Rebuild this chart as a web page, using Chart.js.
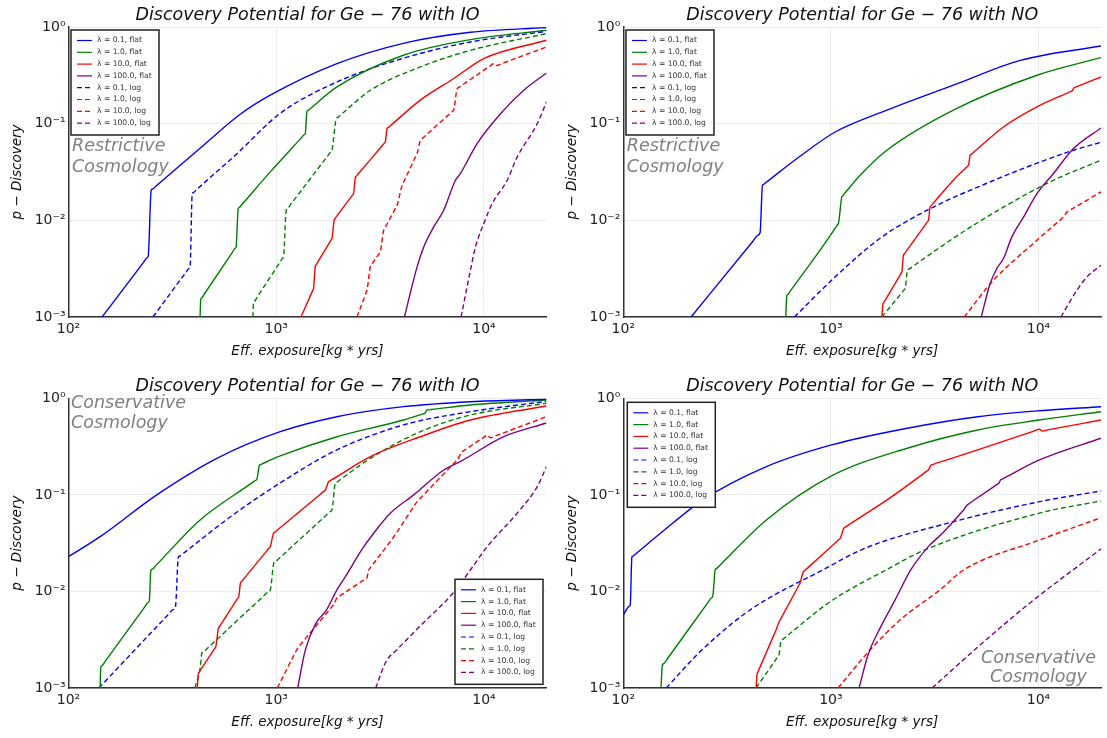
<!DOCTYPE html>
<html>
<head>
<meta charset="utf-8">
<title>Discovery Potential for Ge-76</title>
<script src="https://cdn.jsdelivr.net/npm/chart.js@4.4.1/dist/chart.umd.min.js"></script>
<style>
  html, body { margin: 0; padding: 0; background: #fff; }
  #wrap { position: relative; width: 1107px; height: 738px; overflow: hidden; }
  #wrap canvas { position: absolute; }
</style>
</head>
<body>
<div id="wrap">
  <canvas id="ioRes" width="553" height="369" style="left:0;top:0"></canvas>
  <canvas id="noRes" width="553" height="369" style="left:554px;top:0"></canvas>
  <canvas id="ioCon" width="553" height="369" style="left:0;top:369px"></canvas>
  <canvas id="noCon" width="553" height="369" style="left:554px;top:369px"></canvas>
</div>
<script>
// Discovery potential curves, [exposure kg*yrs, p]

const lambdas = ['0.1', '1.0', '10.0', '100.0'];
const priors = ['flat', 'log'];

const xTicks = [100, 1000, 10000];
const xTickLabels = ['10²', '10³', '10⁴'];
const yTicks = [0.001, 0.01, 0.1, 1];
const yTickLabels = ['10⁻³', '10⁻²', '10⁻¹', '10⁰'];

// IO, restrictive cosmology
const ioResFlat01 = [[145,0.001],[230,0.00369],[238,0.00408],[242,0.00426],[250,0.0205],[254,0.0211],[264,0.0227],[430,0.0557],[671,0.125],[936,0.197],[1960,0.418],[4090,0.678],[8610,0.881],[20000,0.986]];
const ioResFlat1 = [[430,0.001],[433,0.00152],[438,0.00158],[450,0.00172],[616,0.00469],[633,0.00512],[641,0.00531],[656,0.0132],[663,0.01355],[680,0.0144],[936,0.0317],[1327,0.0721],[1364,0.0769],[1380,0.079],[1406,0.134],[1420,0.1364],[1453,0.142],[1960,0.24],[4090,0.51],[8610,0.741],[20000,0.924]];
const ioResFlat10 = [[1315,0.001],[1492,0.00184],[1507,0.00193],[1513,0.00197],[1542,0.00335],[1551,0.00342],[1571,0.00358],[1821,0.00607],[1845,0.00635],[1855,0.00648],[1903,0.0102],[1915,0.01039],[1944,0.01085],[2308,0.01777],[2343,0.01855],[2358,0.0189],[2404,0.0279],[2428,0.0286],[2485,0.0303],[3242,0.0595],[3319,0.0631],[3352,0.0647],[3416,0.089],[3454,0.0908],[3544,0.0952],[4940,0.175],[7150,0.293],[9980,0.471],[20000,0.729]];
const ioResFlat100 = [[4140,0.001],[4765,0.0033],[5130,0.00531],[5730,0.00855],[6400,0.0127],[7290,0.026],[7700,0.0305],[9270,0.0623],[12460,0.138],[15550,0.222],[20000,0.334]];
const ioResLog01 = [[255,0.001],[369,0.00293],[380,0.00318],[385,0.0033],[394,0.0189],[400,0.01942],[413,0.0207],[635,0.0471],[1045,0.128],[1960,0.27],[4090,0.475],[8610,0.70],[20000,0.903]];
const ioResLog1 = [[772,0.001],[777,0.0014],[785,0.001446],[803,0.00156],[1048,0.00375],[1073,0.00405],[1084,0.00418],[1117,0.0127],[1134,0.01326],[1175,0.01466],[1763,0.046],[1827,0.05086],[1855,0.0531],[1946,0.113],[1968,0.1153],[2021,0.1209],[2840,0.2215],[4940,0.386],[8610,0.574],[20000,0.855]];
const ioResLog10 = [[2447,0.001],[2705,0.00177],[2726,0.001853],[2735,0.00189],[2840,0.00335],[2849,0.003386],[2871,0.00347],[3135,0.00455],[3159,0.004661],[3170,0.00471],[3290,0.0079],[3305,0.008041],[3340,0.00838],[3761,0.01348],[3800,0.01405],[3817,0.0143],[4036,0.0231],[4056,0.02363],[4104,0.0249],[4686,0.04545],[4741,0.04791],[4765,0.049],[4940,0.0673],[4995,0.06876],[5126,0.0723],[6890,0.1284],[7071,0.135],[7150,0.138],[7430,0.231],[7521,0.2352],[7738,0.2452],[10707,0.3956],[11150,0.42],[11500,0.40],[12156,0.418],[20000,0.621]];
const ioResLog100 = [[7760,0.001],[8610,0.00305],[9100,0.0053],[9980,0.00927],[10950,0.0149],[12940,0.026],[14460,0.0453],[18050,0.1],[20000,0.168]];

// NO, restrictive cosmology
const noResFlat01 = [[212,0.001],[422,0.00612],[445.5,0.00704],[456,0.00748],[468,0.0231],[474,0.02358],[488,0.02475],[710,0.046],[1048,0.082],[1860,0.138],[3890,0.25],[8160,0.452],[20000,0.636]];
const noResFlat1 = [[606,0.001],[613,0.00165],[620,0.001705],[636,0.00184],[887,0.00491],[1065,0.0087],[1080,0.009095],[1087,0.00927],[1129,0.0175],[1136,0.01777],[1152,0.01843],[1383,0.0293],[1860,0.0531],[3890,0.138],[9830,0.317],[20000,0.483]];
const noResFlat10 = [[1760,0.001],[1780,0.00136],[1791,0.001392],[1818,0.00147],[2151,0.0027],[2183,0.002852],[2197,0.00292],[2236,0.00436],[2255,0.004471],[2299,0.00474],[2871,0.0092],[2927,0.009753],[2951,0.01],[3006,0.0138],[3029,0.01406],[3084,0.0147],[3890,0.026],[4524,0.0358],[4577,0.0367],[4600,0.0371],[4686,0.0471],[4738,0.04807],[4862,0.0504],[6780,0.0924],[9830,0.149],[13938,0.2099],[14322,0.2155],[14490,0.218],[14860,0.236],[14993,0.2378],[15309,0.242],[20000,0.304]];
const noResFlat100 = [[5296,0.001],[5850,0.00222],[6302,0.00318],[6780,0.00403],[7444,0.00674],[8470,0.0108],[9830,0.0189],[11810,0.0305],[14740,0.0553],[20000,0.0903]];
const noResLog01 = [[667,0.001],[1048,0.0026],[1727,0.00653],[3006,0.0132],[5640,0.0242],[9830,0.039],[14740,0.0531],[20000,0.0642]];
const noResLog1 = [[1760,0.001],[2221,0.00184],[2261,0.00193],[2279,0.00197],[2337,0.00305],[2373,0.00312],[2459,0.00329],[3890,0.00653],[6780,0.0137],[11810,0.026],[20000,0.0418]];
const noResLog10 = [[4385,0.001],[6070,0.0024],[9830,0.00622],[12817,0.01022],[13084,0.010623],[13200,0.0108],[13710,0.0122],[13866,0.01238],[14238,0.0128],[20000,0.0197]];
const noResLog100 = [[12820,0.001],[15310,0.00189],[17110,0.0026],[20000,0.00343]];

// IO, conservative cosmology
const ioConFlat01 = [[100,0.0229],[142,0.0369],[266,0.1],[518,0.239],[1045,0.451],[1960,0.645],[4100,0.819],[8610,0.922],[20000,0.976]];
const ioConFlat1 = [[142,0.001],[143,0.00164],[145.4,0.001719],[151,0.00192],[232,0.00685],[241,0.007656],[245,0.00803],[249,0.0164],[253.1,0.017],[263,0.0185],[430,0.055],[758,0.1316],[792,0.1408],[807,0.145],[831,0.204],[836.7,0.2053],[850,0.2085],[1045,0.253],[1960,0.40],[4100,0.596],[5078,0.689],[5163,0.6967],[5200,0.70],[5320,0.757],[5397,0.7597],[5582,0.766],[8610,0.852],[20000,0.96]];
const ioConFlat10 = [[417,0.001],[422,0.00142],[424.4,0.001446],[430,0.00151],[502,0.00251],[509,0.002628],[512,0.00268],[527,0.00416],[530.6,0.004256],[539,0.00449],[645,0.00819],[655.5,0.008633],[660,0.00883],[673,0.0123],[679.8,0.01262],[696,0.0134],[906,0.0267],[926.9,0.02836],[936,0.0291],[970,0.04],[986.8,0.04124],[1027,0.0443],[1626,0.101],[1693,0.1086],[1722,0.112],[1787,0.137],[1812,0.1395],[1872,0.1454],[2840,0.249],[4940,0.40],[8610,0.596],[20000,0.832]];
const ioConFlat100 = [[1268,0.001],[1381,0.00248],[1554,0.00469],[1746,0.00643],[1960,0.0104],[2203,0.0154],[2577,0.0269],[2944,0.04],[3540,0.0645],[4590,0.1],[6400,0.181],[7700,0.2215],[12460,0.40],[20000,0.555]];
const ioConLog01 = [[140,0.001],[300,0.00566],[318.7,0.006476],[327,0.00686],[338,0.0226],[343.9,0.02326],[358,0.02487],[600,0.059],[1045,0.133],[1960,0.292],[4100,0.53],[8610,0.727],[20000,0.93]];
const ioConLog1 = [[406,0.001],[432,0.0017],[438,0.00229],[448.2,0.002395],[473,0.00266],[868,0.00894],[915.7,0.009939],[937,0.0104],[973,0.0196],[992,0.02036],[1038,0.02225],[1739,0.0615],[1819,0.0672],[1855,0.0698],[1924,0.132],[1946.5,0.1344],[2000,0.1401],[2840,0.239],[4940,0.451],[8610,0.672],[20000,0.888]];
const ioConLog10 = [[1012,0.001],[1227,0.002265],[1245.8,0.002413],[1254,0.00248],[1304,0.00279],[1318.5,0.002871],[1353,0.00307],[1818,0.00659],[1866,0.007045],[1887,0.00725],[1960,0.00857],[1979.6,0.008694],[2026,0.00899],[2641,0.01316],[2703,0.0136],[2730,0.0138],[2785,0.0167],[2808.5,0.0171],[2864,0.01808],[3680,0.0369],[4490,0.0703],[4560,0.0739],[4590,0.0755],[4765,0.085],[4829,0.0876],[4981,0.0939],[7107,0.2082],[7332,0.2232],[7430,0.23],[7850,0.28],[7916,0.2834],[8071,0.2914],[10076,0.4007],[10360,0.417],[10740,0.39],[11428,0.410],[20000,0.645]];
const ioConLog100 = [[3010,0.001],[3382,0.00189],[3803,0.00248],[4990,0.0045],[7090,0.00958],[8610,0.0167],[10360,0.0291],[14460,0.0647],[18050,0.1217],[20000,0.196]];

// NO, conservative cosmology
const noConFlat01 = [[100,0.00571],[107.2,0.00708],[108,0.00725],[110,0.0227],[111,0.02308],[113.5,0.0240],[151,0.04],[242,0.0888],[489,0.196],[1007,0.329],[2332,0.49],[5095,0.645],[10100,0.744],[20000,0.819]];
const noConFlat1 = [[152,0.001],[154,0.0017],[156.6,0.001788],[163,0.00201],[255,0.0076],[265.4,0.008541],[270,0.00898],[277,0.0167],[281.7,0.01731],[293,0.01881],[489,0.055],[1007,0.157],[2332,0.304],[5095,0.47],[10100,0.596],[20000,0.727]];
const noConFlat10 = [[436,0.001],[441,0.0014],[443.7,0.001443],[450,0.00155],[533,0.00359],[540.7,0.003859],[544,0.00398],[563,0.00483],[566.9,0.004966],[576,0.0053],[694,0.01112],[705.2,0.011865],[710,0.0122],[735,0.0159],[744.2,0.01629],[766,0.01723],[1065,0.03276],[1096.3,0.03466],[1110,0.0355],[1154,0.0453],[1171.7,0.04628],[1214,0.04865],[1918,0.0924],[2824,0.1692],[2910,0.1774],[2948,0.181],[3040,0.204],[3087,0.2062],[3201,0.2115],[5095,0.292],[9432,0.455],[10100,0.478],[10380,0.459],[11084,0.4712],[20000,0.596]];
const noConFlat100 = [[1367,0.001],[1510,0.00221],[1727,0.00419],[2039,0.00817],[2424,0.0167],[2948,0.0291],[3446,0.04],[4260,0.066],[4330,0.06864],[4361,0.0698],[4530,0.0786],[4578,0.07984],[4692,0.0828],[6220,0.1254],[6375,0.13],[6443,0.132],[6568,0.143],[6653,0.1451],[6857,0.15],[10100,0.23],[20000,0.386]];
const noConLog01 = [[161,0.001],[234,0.00237],[408,0.00643],[913,0.0167],[1460,0.028],[3730,0.0515],[10100,0.085],[20000,0.11]];
const noConLog1 = [[436,0.001],[549,0.00204],[558.8,0.002158],[563,0.00221],[575,0.00309],[584.4,0.003177],[607,0.00339],[991,0.00782],[1845,0.0167],[2835,0.0269],[10100,0.0647],[20000,0.0865]];
const noConLog10 = [[1083,0.001],[1545,0.00248],[2155,0.00507],[3357,0.0104],[4361,0.0167],[10100,0.0341],[20000,0.058]];
const noConLog100 = [[3074,0.001],[5236,0.00279],[9120,0.00764],[20000,0.0276]];

const lineColors = ['#0000ff', '#008000', '#ff0000', '#800080'];

Chart.defaults.font.family = '"DejaVu Sans", sans-serif';
Chart.defaults.color = '#222';

// titles, axis names, notes and the boxed legend
const panelDecor = {
    id: 'panelDecor',
    afterDraw(chart, args, opts) {
        const ctx = chart.ctx;
        const a = chart.chartArea;
        const cx = (a.left + a.right) / 2;
        ctx.save();
        ctx.fillStyle = '#111';
        ctx.textAlign = 'center';
        ctx.textBaseline = 'alphabetic';
        ctx.font = 'italic 17.5px "DejaVu Sans"';
        ctx.fillText(opts.title, cx, a.top - 7.5);

        ctx.font = 'italic 13.5px "DejaVu Sans"';
        ctx.fillText('Eff. exposure[kg * yrs]', cx, a.bottom + 37.5);
        ctx.save();
        ctx.translate(a.left - 47.5, (a.top + a.bottom) / 2);
        ctx.rotate(-Math.PI / 2);
        ctx.fillText('p − Discovery', 0, 0);
        ctx.restore();

        // cosmology note
        const n = opts.note(a);
        ctx.fillStyle = '#808080';
        ctx.font = 'italic 17.5px "DejaVu Sans"';
        ctx.textAlign = n.align;
        n.lines.forEach((t, i) => ctx.fillText(t, n.x, n.y + i * n.gap));

        // legend
        const L = opts.legend(a);
        const w = 88, h = 105;
        ctx.fillStyle = '#fff';
        ctx.fillRect(L.x, L.y, w, h);
        ctx.strokeStyle = '#222';
        ctx.lineWidth = 1.5;
        ctx.strokeRect(L.x, L.y, w, h);
        ctx.font = '7.6px "DejaVu Sans"';
        ctx.textAlign = 'left';
        ctx.textBaseline = 'middle';
        chart.data.datasets.forEach((ds, i) => {
            const y = L.y + 10.5 + i * 11.8;
            ctx.strokeStyle = ds.borderColor;
            ctx.lineWidth = 1.2;
            ctx.setLineDash(ds.borderDash || []);
            ctx.beginPath();
            ctx.moveTo(L.x + 6, y);
            ctx.lineTo(L.x + 21, y);
            ctx.stroke();
            ctx.setLineDash([]);
            ctx.fillStyle = '#333';
            ctx.fillText(ds.label, L.x + 26, y);
        });
        ctx.restore();
    }
};

function makeDatasets(series) {
    return series.map((pts, i) => {
        const lam = i % 4, prior = Math.floor(i / 4);
        return {
            label: 'λ = ' + lambdas[lam] + ', ' + priors[prior],
            data: pts.map(([x, y]) => ({ x, y })),
            borderColor: lineColors[lam],
            backgroundColor: lineColors[lam],
            borderWidth: 1.4,
            borderDash: prior === 1 ? [5, 3] : [],
            pointRadius: 0,
            showLine: true,
            cubicInterpolationMode: 'monotone',
            fill: false
        };
    });
}

function makeChart(id, cfg) {
    const axisFont = { family: '"DejaVu Sans"', size: 14 };
    return new Chart(document.getElementById(id), {
        type: 'scatter',
        data: { datasets: makeDatasets(cfg.series) },
        options: {
            responsive: false,
            animation: false,
            events: [],
            layout: { padding: { top: cfg.padTop, right: cfg.padRight, left: 0, bottom: 0 } },
            plugins: {
                legend: { display: false },
                tooltip: { enabled: false },
                panelDecor: { title: cfg.title, note: cfg.note, legend: cfg.legend }
            },
            scales: {
                x: {
                    type: 'logarithmic',
                    min: 100, max: 20000,
                    afterBuildTicks: s => { s.ticks = xTicks.map(v => ({ value: v })); },
                    afterFit: s => { s.height = cfg.xAxisH; s.paddingLeft = 0; s.paddingRight = 0; },
                    ticks: {
                        autoSkip: false, maxRotation: 0, padding: 4, color: '#222', font: axisFont,
                        callback: (v, i) => xTickLabels[i]
                    },
                    grid: { color: '#ebebeb', drawTicks: false },
                    border: { color: '#333', width: 1.5 }
                },
                y: {
                    type: 'logarithmic',
                    min: 0.001, max: 1,
                    afterBuildTicks: s => { s.ticks = yTicks.map(v => ({ value: v })); },
                    afterFit: s => { s.width = cfg.yAxisW; s.paddingTop = 0; s.paddingBottom = 0; },
                    ticks: {
                        autoSkip: false, padding: 3, color: '#222', font: axisFont,
                        callback: (v, i) => yTickLabels[i]
                    },
                    grid: { color: '#ebebeb', drawTicks: false },
                    border: { color: '#333', width: 1.5 }
                }
            }
        },
        plugins: [panelDecor]
    });
}

makeChart('ioRes', {
    title: 'Discovery Potential for Ge − 76 with IO',
    series: [ioResFlat01, ioResFlat1, ioResFlat10, ioResFlat100, ioResLog01, ioResLog1, ioResLog10, ioResLog100],
    padTop: 27, padRight: 6.5, yAxisW: 68.5, xAxisH: 52,
    note: a => ({ lines: ['Restrictive', 'Cosmology'], x: a.left + 3.5, y: a.top + 123.5, gap: 21, align: 'left' }),
    legend: a => ({ x: a.left + 2.5, y: a.top + 3 })
});

makeChart('noRes', {
    title: 'Discovery Potential for Ge − 76 with NO',
    series: [noResFlat01, noResFlat1, noResFlat10, noResFlat100, noResLog01, noResLog1, noResLog10, noResLog100],
    padTop: 27, padRight: 6, yAxisW: 69.3, xAxisH: 52,
    note: a => ({ lines: ['Restrictive', 'Cosmology'], x: a.left + 3.5, y: a.top + 123.5, gap: 21, align: 'left' }),
    legend: a => ({ x: a.left + 2.7, y: a.top + 3 })
});

makeChart('ioCon', {
    title: 'Discovery Potential for Ge − 76 with IO',
    series: [ioConFlat01, ioConFlat1, ioConFlat10, ioConFlat100, ioConLog01, ioConLog1, ioConLog10, ioConLog100],
    padTop: 29.3, padRight: 6.5, yAxisW: 68.5, xAxisH: 50,
    note: a => ({ lines: ['Conservative', 'Cosmology'], x: a.left + 2.5, y: a.top + 10, gap: 20, align: 'left' }),
    legend: a => ({ x: a.right - 91.5, y: a.bottom - 108.7 })
});

makeChart('noCon', {
    title: 'Discovery Potential for Ge − 76 with NO',
    series: [noConFlat01, noConFlat1, noConFlat10, noConFlat100, noConLog01, noConLog1, noConLog10, noConLog100],
    padTop: 29.3, padRight: 6, yAxisW: 69.3, xAxisH: 50,
    note: a => ({ lines: ['Conservative', 'Cosmology'], x: a.right - 62.5, y: a.bottom - 25.5, gap: 19, align: 'center' }),
    legend: a => ({ x: a.left + 4, y: a.top + 4 })
});
</script>
</body>
</html>
